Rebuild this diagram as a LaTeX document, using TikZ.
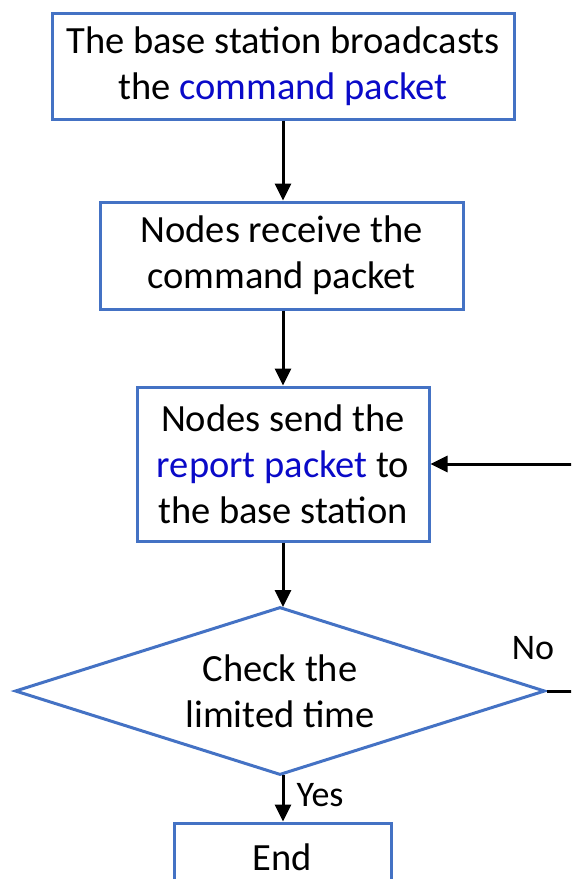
\documentclass[tikz,border=0pt]{standalone}
\usepackage{fontspec}
\setmainfont{Carlito}
\usetikzlibrary{shapes.geometric,arrows.meta}
\definecolor{boxblue}{RGB}{68,114,196}
\definecolor{txtblue}{RGB}{10,10,200}
\tikzset{
  flowbox/.style={draw=boxblue, line width=3pt, rectangle, align=center, inner sep=0pt, font=\fontsize{38.5}{46}\selectfont, text=black},
  decision/.style={draw=boxblue, line width=3pt, diamond, shape aspect=3.15, align=center, inner sep=0pt, font=\fontsize{38.5}{46}\selectfont},
  flow/.style={line width=3pt, -{Triangle[length=17pt,width=16pt]}},
  lbl/.style={font=\fontsize{36}{40}\selectfont, inner sep=0pt}
}
\begin{document}
\begin{tikzpicture}[x=1pt,y=-1pt]
\useasboundingbox (0,0) rectangle (571,879);
\clip (0,0) rectangle (571,879);
\node[flowbox, minimum width=462pt, minimum height=106pt] (b1) at (283,66) {The base station broadcasts\\the \textcolor{txtblue}{command packet}};
\node[flowbox, minimum width=363pt, minimum height=107pt] (b2) at (281.5,255.5) {Nodes receive the\\command packet};
\node[flowbox, minimum width=292pt, minimum height=154pt] (b3) at (283,464) {Nodes send the\\\textcolor{txtblue}{report packet} to\\the base station};
\node[decision, minimum width=530pt, minimum height=168pt] (d) at (280,691) {Check the\\limited time};
\node[flowbox, minimum width=217pt, minimum height=68pt] (e) at (282.5,857) {End};
\coordinate (r1) at (600,691);
\draw[flow] (b1.south -| 283,0) -- (b2.north -| 283,0);
\draw[flow] (b2.south -| 283,0) -- (b3.north -| 283,0);
\draw[flow] (b3.south -| 283,0) -- (283,607);
\draw[flow] (283,775) -- (e.north -| 283,0);
\draw[flow] (d.east) -- (r1) |- (b3.east);
\node[lbl] (no) at (533,648) {No};
\node[lbl] (yes) at (320,795) {Yes};
\end{tikzpicture}
\end{document}
